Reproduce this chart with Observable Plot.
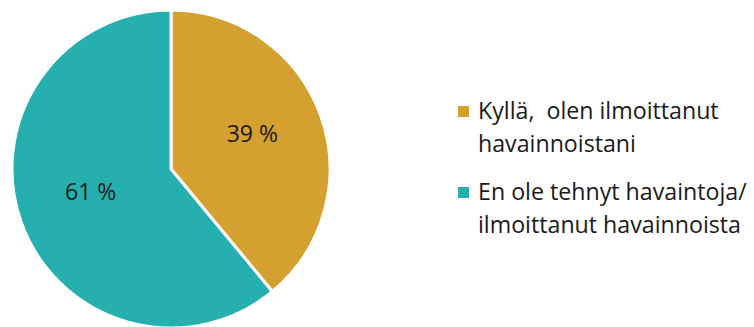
<!DOCTYPE html>
<html>
<head>
<meta charset="utf-8">
<script src="https://cdn.jsdelivr.net/npm/d3@7"></script>
<script src="https://cdn.jsdelivr.net/npm/@observablehq/plot@0.6"></script>
<style>
  html, body { margin: 0; padding: 0; background: #fff; }
  #wrap { position: relative; width: 754px; height: 327px; font-family: "Open Sans", Lato, sans-serif; }
  #legend { position: absolute; left: 458px; top: 94px; font-size: 23.2px; color: #1a1a1a; line-height: 33px; white-space: nowrap; }
  .item { display: flex; align-items: flex-start; margin-bottom: 15px; }
  .sw { width: 11px; height: 11px; margin-top: 12px; margin-right: 9px; flex: none; }
</style>
</head>
<body>
<div id="wrap"></div>
<script>
const categories = ["Kyllä,  olen ilmoittanut havainnoistani", "En ole tehnyt havaintoja/ ilmoittanut havainnoista"];
const legendLines = [["Kyllä,\u00a0 olen ilmoittanut", "havainnoistani"], ["En ole tehnyt havaintoja/", "ilmoittanut havainnoista"]];
const values = [39, 61];
const labels = ["39 %", "61 %"];
const colors = ["#D4A02F", "#26AFAF"];

const data = categories.map((c, i) => ({category: c, value: values[i], label: labels[i]}));
const arcs = d3.pie().sort(null).value(d => d.value)(data);
const labelArc = d3.arc().innerRadius(0).outerRadius(1.08);
const labelData = arcs.map(a => {
  const [cx, cy] = labelArc.centroid(a);
  return {x: cx, y: -cy, label: a.data.label};
});

function pieMark(index, scales, values_, dims, context) {
  const cx = scales.x(0), cy = scales.y(0), r = scales.x(1) - cx;
  const g = d3.create("svg:g").attr("transform", `translate(${cx},${cy})`);
  const arc = d3.arc().innerRadius(0).outerRadius(r);
  g.selectAll("path").data(arcs).join("path")
    .attr("d", arc)
    .attr("fill", d => scales.color(d.data.category))
    .attr("stroke", "#fff")
    .attr("stroke-width", 3)
    .attr("stroke-linejoin", "round");
  return g.node();
}

const chart = Plot.plot({
  width: 754,
  height: 327,
  margin: 0,
  x: {domain: [-1, 1], range: [12, 330], axis: null},
  y: {domain: [-1, 1], range: [328, 10], axis: null},
  color: {domain: categories, range: colors},
  style: {fontFamily: "'Open Sans', Lato, sans-serif"},
  marks: [
    pieMark,
    Plot.text(labelData, {x: "x", y: "y", text: "label", fontSize: 23, dy: -6, fill: "#1a1a1a"})
  ]
});
const wrap = document.getElementById("wrap");
wrap.appendChild(chart);

const legend = document.createElement("div");
legend.id = "legend";
categories.forEach((c, i) => {
  const item = document.createElement("div");
  item.className = "item";
  const sw = document.createElement("div");
  sw.className = "sw";
  sw.style.background = colors[i];
  const t = document.createElement("div");
  t.innerHTML = legendLines[i].join("<br>");
  item.appendChild(sw);
  item.appendChild(t);
  legend.appendChild(item);
});
wrap.appendChild(legend);
</script>
</body>
</html>
